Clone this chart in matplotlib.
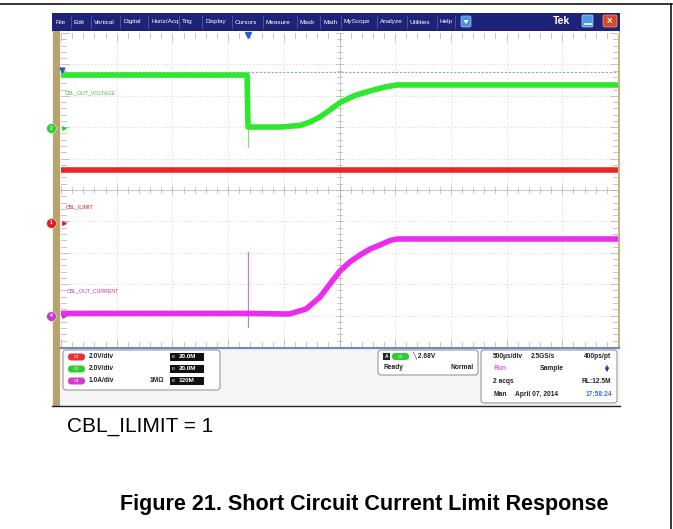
import matplotlib
matplotlib.use("Agg")
import matplotlib.pyplot as plt
from matplotlib.patches import Rectangle, FancyBboxPatch, Polygon

W, H = 673, 529
FONT = ["Liberation Sans", "DejaVu Sans"]

# horizontal: 500 us/div, 10 divisions  (time in ms)
T_PER_DIV = 0.5
T_END = 5.0

# CBL_OUT_VOLTAGE (green), 2 V/div
volt_t = [0.0, 1.670, 1.679, 1.97, 2.145, 2.235, 2.325, 2.415, 2.504, 2.639, 2.774, 2.908, 3.016, 3.49, 5.0]
volt_v = [3.38, 3.38, 0.07, 0.07, 0.17, 0.39, 0.71, 1.16, 1.63, 2.08, 2.37, 2.62, 2.75, 2.75, 2.75]
volt_spike = [3.38, -1.2]

# CBL_ILIMIT (red), 2 V/div
ilim_t = [0.0, 5.0]
ilim_v = [3.37, 3.37]

# CBL_OUT_CURRENT (magenta), 1 A/div
cur_t = [0.0, 1.670, 1.679, 2.05, 2.20, 2.325, 2.415, 2.504, 2.594, 2.684, 2.774, 2.864, 2.953, 3.016, 3.49, 5.0]
cur_a = [0.08, 0.08, 0.08, 0.06, 0.22, 0.60, 1.02, 1.43, 1.72, 1.94, 2.13, 2.26, 2.40, 2.45, 2.45, 2.45]
cur_spike = [2.05, -0.34]
spike_t = 1.679

# channel settings: (scale per div, position in div)
CH_VOLT = (2.0, 1.97)
CH_ILIM = (2.0, -1.05)
CH_CUR = (1.0, -4.01)
TRIG_LEVEL_DIV = 3.77

menu_items = ["File", "Edit", "Vertical", "Digital", "Horiz/Acq", "Trig", "Display", "Cursors",
              "Measure", "Mask", "Math", "MyScope", "Analyze", "Utilities", "Help"]
menu_x = [56, 74, 94, 123, 151, 182, 205, 235, 266, 300, 323, 344, 380, 410, 440]


def to_div(vals, ch):
    scale, pos = ch
    return [v / scale + pos for v in vals]


fig = plt.figure(figsize=(W / 100, H / 100), dpi=100)
fig.patch.set_facecolor("white")

# page / screenshot decorations in pixel coordinates
ax0 = fig.add_axes([0, 0, 1, 1])
ax0.set_xlim(0, W)
ax0.set_ylim(H, 0)
ax0.axis("off")

ax0.plot([0, 672], [4, 4], color="black", lw=1.1)
ax0.plot([671, 671], [4, 529], color="black", lw=1.1)

# screenshot frame
ax0.add_patch(Rectangle((52, 13), 568, 393, facecolor="#f5f5f5", edgecolor="none"))
ax0.add_patch(Rectangle((52, 13), 568, 18, facecolor="#1d2378", edgecolor="none"))
ax0.add_patch(Rectangle((53, 31), 7, 375, facecolor="#b7a36e", edgecolor="none"))
ax0.add_patch(Rectangle((617.5, 31), 2, 318, facecolor="#c6b483", edgecolor="none"))
ax0.add_patch(Rectangle((60, 31), 559, 3, facecolor="white", edgecolor="none"))
ax0.plot([52, 620], [406, 406], color="#202030", lw=1.0)
ax0.plot([61, 619], [347.5, 347.5], color="#6a8ac0", lw=1.6)
ax0.plot([60.5, 60.5], [33, 347], color="#6a8ac0", lw=0.8)

# menu bar
for x, s in zip(menu_x, menu_items):
    ax0.text(x, 22, s, fontsize=4.6, color="white", va="center", ha="left", family=FONT)
for x in menu_x[1:] + [458]:
    ax0.plot([x - 3.5, x - 3.5], [16, 28], color="#5a64a8", lw=0.5)
ax0.add_patch(FancyBboxPatch((461, 16), 10, 11, boxstyle="round,pad=0,rounding_size=1.5",
                             facecolor="#4c8ee0", edgecolor="#9cc4f0", lw=0.5))
ax0.add_patch(Polygon([[463.5, 20], [468.5, 20], [466, 24]], closed=True, facecolor="white"))
ax0.text(553, 21.5, "Tek", fontsize=7.5, color="white", weight="bold", va="center", family=FONT)
ax0.add_patch(FancyBboxPatch((582, 15), 11, 12, boxstyle="round,pad=0,rounding_size=1.5",
                             facecolor="#4f9ae6", edgecolor="#b8d8f8", lw=0.5))
ax0.plot([584.5, 590.5], [24, 24], color="white", lw=1.2)
ax0.add_patch(FancyBboxPatch((603, 15), 14, 12, boxstyle="round,pad=0,rounding_size=1.5",
                             facecolor="#d84a26", edgecolor="#f0a080", lw=0.5))
ax0.text(610, 21.5, "X", fontsize=6, color="white", weight="bold", va="center", ha="center", family=FONT)


# status bar boxes
def box(x, y, w, h):
    ax0.add_patch(FancyBboxPatch((x, y), w, h, boxstyle="round,pad=0,rounding_size=3",
                                 facecolor="white", edgecolor="#9a9a9a", lw=0.8))


def pill(x, y, color, label):
    ax0.add_patch(FancyBboxPatch((x, y - 3.5), 17, 7, boxstyle="round,pad=0,rounding_size=3.5",
                                 facecolor=color, edgecolor="none"))
    ax0.text(x + 8.5, y, label, fontsize=3.2, color="white", va="center", ha="center", family=FONT)


def bw(x, y, label):
    ax0.add_patch(Rectangle((x, y - 4), 34, 8, facecolor="#111111", edgecolor="none"))
    ax0.text(x + 2, y + 0.5, "B", fontsize=3.2, color="white", va="center", family=FONT)
    ax0.text(x + 9, y, label, fontsize=4.6, color="white", va="center", weight="bold", family=FONT)


def st(x, y, s, color="#222222", ha="left", **kw):
    ax0.text(x, y, s, fontsize=4.8, color=color, va="center", ha=ha, family=FONT, **kw)


box(63, 350, 157, 40)
rows = [(357, "#e8303a", "C1", "2.0V/div", "20.0M"),
        (369, "#2ecc2e", "C2", "2.0V/div", "20.0M"),
        (381, "#d63ad6", "C4", "1.0A/div", "120M")]
for y, c, lab, vdiv, bwl in rows:
    pill(68, y, c, lab)
    st(89, y, vdiv, weight="bold")
    bw(170, y, bwl)
st(150, 381, "1MΩ", weight="bold")

box(378, 350, 100, 25)
ax0.add_patch(Rectangle((383, 353), 7, 7, facecolor="#222222"))
ax0.text(386.5, 356.5, "A", fontsize=3.6, color="white", va="center", ha="center", weight="bold", family=FONT)
pill(392, 356.5, "#2ecc2e", "C2")
st(412, 356.5, "╲ 2.68V", weight="bold")
st(384, 367.5, "Ready", weight="bold")
st(474, 367.5, "Normal", ha="right", weight="bold")

box(481, 350, 136, 53)
st(493, 356.5, "500µs/div", weight="bold")
st(531, 356.5, "2.5GS/s", weight="bold")
st(611, 356.5, "400ps/pt", ha="right", weight="bold")
st(493, 369, "Run", color="#e060e0", weight="bold")
st(540, 369, "Sample", weight="bold")
ax0.annotate("", xy=(607, 375), xytext=(607, 363),
             arrowprops=dict(arrowstyle="-|>", color="#1a3ab0", lw=1.0, mutation_scale=5))
st(493, 381.5, "2 acqs", weight="bold")
st(611, 381.5, "RL:12.5M", ha="right", weight="bold")
st(493, 394.5, "Man", weight="bold")
st(515, 394.5, "April 07, 2014", weight="bold")
st(612, 394.5, "17:58:24", color="#3a70d0", ha="right", weight="bold")

# captions
ax0.text(67, 432, "CBL_ILIMIT = 1", fontsize=15, color="black", va="baseline", family=FONT)
ax0.text(120, 510, "Figure 21. Short Circuit Current Limit Response", fontsize=15.5,
         weight="bold", color="black", va="baseline", family=FONT)

# graticule
ax = fig.add_axes([61 / W, 1 - 347 / H, 557 / W, 314 / H])
ax.set_xlim(0, T_END)
ax.set_ylim(-5, 5)
ax.set_facecolor("white")
for s in ax.spines.values():
    s.set_visible(False)
ax.set_xticks([])
ax.set_yticks([])

grid_kw = dict(color="#d2d2d2", lw=0.7, ls=(0, (1, 2.4)), zorder=1)
for i in range(1, 10):
    ax.axvline(i * T_PER_DIV, **grid_kw)
for j in range(-4, 5):
    ax.axhline(j, **grid_kw)
ax.axvline(T_END / 2, color="#c0c0c0", lw=0.6, zorder=1)
ax.axhline(0, color="#c0c0c0", lw=0.6, zorder=1)

# minor ticks on centre lines and edges
tick_c = "#b0b0b0"
for k in range(51):
    t = k * T_PER_DIV / 5
    h = 0.16 if k % 5 else 0.26
    ax.plot([t, t], [-h / 2, h / 2], color=tick_c, lw=0.5, zorder=1)
    ax.plot([t, t], [5, 5 - h], color=tick_c, lw=0.5, zorder=1)
    ax.plot([t, t], [-5, -5 + h], color=tick_c, lw=0.5, zorder=1)
for k in range(51):
    y = -5 + k * 0.2
    h = 0.045 if k % 5 else 0.07
    ax.plot([T_END / 2 - h / 2, T_END / 2 + h / 2], [y, y], color=tick_c, lw=0.5, zorder=1)
    ax.plot([0, h], [y, y], color=tick_c, lw=0.5, zorder=1)
    ax.plot([T_END - h, T_END], [y, y], color=tick_c, lw=0.5, zorder=1)

# trigger level line
ax.axhline(TRIG_LEVEL_DIV, color="#8ea6c8", lw=0.8, ls=(0, (2, 1.5)), zorder=2)

# traces
ax.plot(ilim_t, to_div(ilim_v, CH_ILIM), color="#ee2424", lw=4.0, zorder=3, solid_capstyle="butt")
ax.plot([spike_t, spike_t], to_div(volt_spike, CH_VOLT), color="#7be07b", lw=0.9, zorder=3)
ax.plot(volt_t, to_div(volt_v, CH_VOLT), color="#2de82d", lw=4.0, zorder=4,
        solid_capstyle="butt", solid_joinstyle="round")
ax.plot([spike_t, spike_t], to_div(cur_spike, CH_CUR), color="#c878d8", lw=0.9, zorder=3)
ax.plot(cur_t, to_div(cur_a, CH_CUR), color="#ee2aee", lw=4.0, zorder=4,
        solid_capstyle="butt", solid_joinstyle="round")

# waveform labels
ax.text(0.03, 3.08, "CBL_OUT_VOLTAGE", fontsize=3.8, color="#40c040", va="center", family=FONT)
ax.text(0.04, -0.55, "CBL_ILIMIT", fontsize=3.8, color="#d02020", va="center", family=FONT)
ax.text(0.05, -3.2, "CBL_OUT_CURRENT", fontsize=3.8, color="#c030c0", va="center", family=FONT)

# channel markers on the left edge
for ch, color, lab in [(CH_VOLT, "#30d030", "2"), (CH_ILIM, "#e02020", "1"), (CH_CUR, "#c040c0", "4")]:
    yd = ch[1]
    ax.plot([-0.09], [yd], marker="o", ms=7, color=color, mec="#ffffff", mew=0.3,
            clip_on=False, zorder=6)
    ax.text(-0.09, yd, lab, fontsize=3.6, color="white", ha="center", va="center",
            weight="bold", family=FONT, clip_on=False, zorder=7)
    ax.plot([0.03], [yd], marker=">", ms=2.5, color=color, clip_on=False, zorder=6)

# trigger markers
ax.plot([spike_t], [4.95], marker="v", ms=4, color="#2a5ac8", clip_on=False, zorder=6)
ax.plot([0.01], [TRIG_LEVEL_DIV + 0.05], marker="v", ms=3.5, color="#2a5ac8", clip_on=False, zorder=6)

fig.savefig("out.png", dpi=100)
